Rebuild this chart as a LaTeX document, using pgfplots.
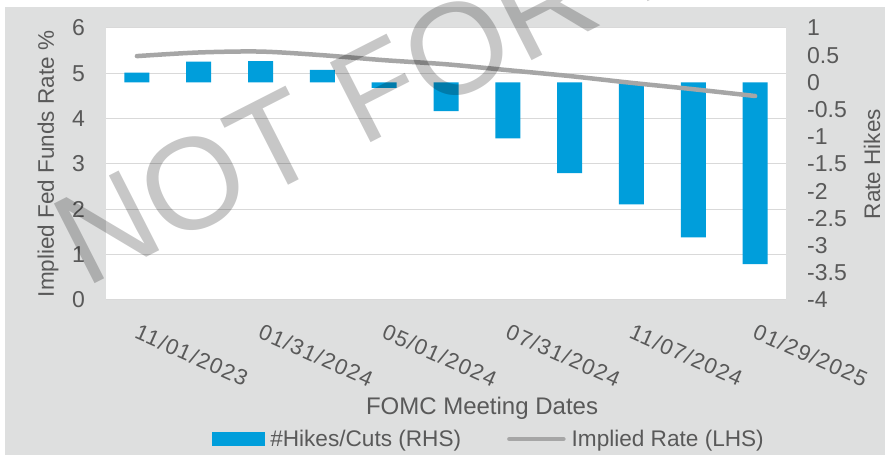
\documentclass[border=0pt]{standalone}
\usepackage{fontspec}
\setmainfont{Liberation Sans}
\newfontfamily\datefont[LetterSpace=6]{Liberation Sans}
\usepackage{pgfplots}
\pgfplotsset{compat=1.18}

\definecolor{bg}{RGB}{222,223,223}
\definecolor{barblue}{RGB}{0,158,219}
\definecolor{linegray}{RGB}{166,166,166}
\definecolor{txt}{RGB}{89,89,89}
\definecolor{gridc}{RGB}{217,217,217}
\newcommand\fs[1]{\fontsize{#1bp}{#1bp}\selectfont}

\pgfplotsset{
  common/.style={
    at={(106bp,155bp)}, anchor=south west,
    scale only axis, width=680bp, height=272bp,
    xmin=-0.5, xmax=10.5,
    major tick length=0pt,
    axis line style={draw=none},
    tick label style={text=txt},
  }
}

\begin{document}
\begin{tikzpicture}
\useasboundingbox (0,0) rectangle (885bp,455bp);
\fill[bg] (5bp,0) rectangle (885bp,448bp);

% left axis: grid, ticks, dates
\begin{axis}[common,
  axis background/.style={fill=white},
  ymin=0, ymax=6,
  ytick={0,1,2,3,4,5,6}, yticklabels={0,1,2,3,4,5,6},
  ymajorgrids, grid style={gridc, line width=1bp},
  yticklabel style={font=\fs{23}, inner sep=0pt, anchor=east, xshift=-21bp},
  xtick={0,2,4,6,8,10},
  xticklabels={11/01/2023,01/31/2024,05/01/2024,07/31/2024,11/07/2024,01/29/2025},
  xticklabel style={font=\datefont\fs{22}, inner sep=0pt, anchor=north west, yshift=-23bp, xshift=3bp, rotate=-24},
  ylabel={Implied Fed Funds Rate \%},
  every axis y label/.style={at={(axis description cs:-0.0853,0.5)}, rotate=90, anchor=center, font=\fs{22.5}, text=txt},
  xlabel={FOMC Meeting Dates},
  every axis x label/.style={at={(axis description cs:0.553,-0.397)}, anchor=center, font=\fs{24}, text=txt},
]
\end{axis}

% right axis: rate hikes / cuts
\begin{axis}[common,
  axis y line*=right, axis x line=none,
  ymin=-4, ymax=1,
  ytick={-4,-3.5,-3,-2.5,-2,-1.5,-1,-0.5,0,0.5,1},
  yticklabels={-4,-3.5,-3,-2.5,-2,-1.5,-1,-0.5,0,0.5,1},
  yticklabel style={font=\fs{23}, inner sep=0pt, anchor=west, xshift=21bp},
  ylabel={Rate Hikes},
  every axis y label/.style={at={(axis description cs:1.1265,0.5)}, rotate=90, anchor=center, font=\fs{22.5}, text=txt},
]
\addplot[ybar, bar width=25bp, fill=barblue, draw=none] coordinates {
  (0,0.18) (1,0.38) (2,0.39) (3,0.23) (4,-0.10) (5,-0.53)
  (6,-1.03) (7,-1.67) (8,-2.24) (9,-2.85) (10,-3.34)
};
\end{axis}

% implied rate line + legend
\begin{axis}[common,
  hide axis,
  ymin=0, ymax=6,
  legend columns=2,
  legend style={at={(axis description cs:0.563,-0.511)}, anchor=center,
    draw=none, fill=none, font=\fs{22.6}, text=txt,
    /tikz/every even column/.append style={column sep=44bp},
    nodes={inner sep=2bp}},
]
\addlegendimage{legend image code/.code={\fill[barblue] (0bp,-6.5bp) rectangle (52bp,6.5bp); \path (56bp,0bp);}}
\addlegendentry{\#Hikes/Cuts (RHS)}
\addplot[linegray, line width=4.5bp, smooth, line cap=round,
  legend image code/.code={\draw[linegray, line width=4.5bp, line cap=round] (2bp,0bp) -- (56bp,0bp); \path (60bp,0bp);}]
  coordinates {
  (0,5.38) (1,5.46) (2,5.48) (3,5.40) (4,5.29) (5,5.20)
  (6,5.07) (7,4.94) (8,4.79) (9,4.65) (10,4.50)
};
\addlegendentry{Implied Rate (LHS)}
\end{axis}

% watermark
\node[anchor=base west, rotate=27, inner sep=0pt, font=\fs{130},
  text=black, opacity=0.22] at (85bp,166bp) {NOT FOR DISTRIBUTION};
\end{tikzpicture}
\end{document}
